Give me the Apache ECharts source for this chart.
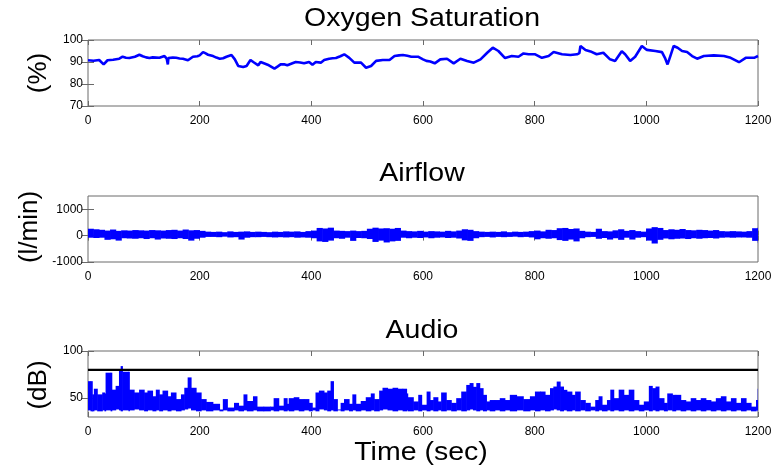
<!DOCTYPE html>
<html>
<head>
<meta charset="utf-8">
<script src="https://cdn.jsdelivr.net/npm/echarts@6/dist/echarts.min.js"></script>
<style>html,body{margin:0;padding:0;background:#fff;}#c{width:776px;height:470px;}</style>
</head>
<body>
<div id="c"></div>
<script>
// ---------- data ----------
const xTicks = [0, 200, 400, 600, 800, 1000, 1200];

const oxyTime = [0,10,20,28,35,45,56,62,68,74,84,92,98,104,110,116,122,128,137,141,143,144,146,152,158,164,170,179,188,196,200,206,210,215,224,230,236,242,248,257,263,269,278,284,287,291,296,305,309,315,324,334,340,345,351,357,365,372,380,387,396,402,408,417,423,432,438,444,452,459,468,477,483,489,498,507,516,528,540,549,557,564,572,579,591,600,606,613,621,631,643,655,667,679,691,703,715,725,735,747,759,771,780,789,801,813,825,834,849,864,876,880,882,891,900,911,923,935,944,956,962,971,980,992,1001,1016,1028,1034,1038,1043,1049,1056,1064,1073,1082,1091,1103,1121,1139,1151,1166,1178,1193,1200];
const oxygen = [90.8,90.6,90.9,88.9,90.8,91.0,91.5,92.4,91.9,91.8,92.4,93.3,92.6,92.1,91.8,92.1,92.0,91.9,92.7,91.5,88.9,91.8,91.2,92.0,91.9,91.6,91.5,90.8,92.4,92.6,93.0,94.5,94.0,93.3,92.7,92.0,91.5,91.7,92.4,93.2,91.2,88.2,87.7,88.2,88.9,90.9,90.0,88.5,90.0,89.4,88.5,87.0,88.0,88.9,89.0,88.5,89.3,90.0,89.8,89.4,90.0,88.7,90.0,89.7,90.9,91.5,91.7,91.8,92.6,93.5,91.9,89.7,89.8,89.7,87.4,88.2,90.5,90.9,90.9,92.7,93.0,93.2,92.8,92.4,92.4,91.2,90.5,90.2,89.4,91.2,91.5,89.4,91.5,90.5,89.7,91.2,94.2,96.5,95.0,91.8,92.7,92.4,93.9,93.5,93.5,91.9,92.7,94.5,93.5,93.2,93.5,94.0,97.3,95.5,94.8,93.5,94.2,91.2,90.5,94.9,93.5,90.5,92.4,97.3,95.5,95.0,94.5,91.5,88.9,92.7,97.3,96.5,95.0,94.5,92.7,91.5,92.7,93.0,92.7,91.9,89.9,91.9,91.9,92.7];

const airTime = [0,10,20,30,40,50,60,70,80,90,100,110,120,130,140,150,160,170,180,190,200,210,220,230,240,250,260,270,280,290,300,310,320,330,340,350,360,370,380,390,400,410,420,430,440,450,460,470,480,490,500,510,520,530,540,550,560,570,580,590,600,610,620,630,640,650,660,670,680,690,700,710,720,730,740,750,760,770,780,790,800,810,820,830,840,850,860,870,880,890,900,910,920,930,940,950,960,970,980,990,1000,1010,1020,1030,1040,1050,1060,1070,1080,1090,1100,1110,1120,1130,1140,1150,1160,1170,1180,1190,1200];
const airHigh = [260,240,220,190,230,180,200,190,210,200,190,210,200,190,210,220,190,230,200,210,180,150,140,150,130,160,140,150,160,140,150,140,130,150,140,160,150,160,140,170,190,290,270,300,190,180,170,190,170,180,260,300,270,280,260,290,190,170,160,180,150,170,160,150,180,160,190,240,220,170,150,140,150,140,160,130,150,140,150,170,190,160,220,210,280,290,250,270,180,150,140,260,170,160,200,240,180,210,170,150,270,320,290,210,240,220,250,210,200,220,210,190,210,170,160,170,160,150,170,280,310];
const airLow = [-80,-90,-80,-160,-140,-190,-100,-110,-120,-100,-130,-100,-150,-110,-120,-130,-100,-130,-190,-120,-80,-50,-50,-60,-40,-70,-60,-150,-80,-60,-60,-50,-60,-70,-60,-70,-60,-80,-70,-80,-100,-220,-240,-190,-100,-120,-80,-200,-90,-100,-130,-240,-190,-260,-220,-200,-80,-100,-80,-90,-70,-100,-80,-70,-90,-80,-110,-180,-200,-100,-60,-50,-70,-50,-60,-50,-40,-60,-50,-70,-140,-100,-120,-100,-170,-200,-150,-220,-100,-60,-50,-120,-90,-150,-100,-160,-80,-150,-80,-60,-190,-300,-160,-110,-140,-120,-110,-130,-100,-120,-100,-90,-110,-80,-70,-80,-70,-70,-80,-200,-270];

const audioTime = [0,5,8,11,17,26,30,32,41,43,50,56,59,62,73,74,83,92,101,107,116,122,128,134,143,149,158,167,173,179,185,194,203,212,224,236,242,250,262,270,279,285,296,303,315,327,333,342,351,357,360,369,378,387,396,402,408,414,423,429,435,440,447,453,459,468,474,480,489,498,507,513,522,528,537,546,555,564,571,573,583,592,598,607,613,619,627,633,642,651,660,669,678,684,690,696,702,708,714,720,729,738,747,756,768,780,792,801,810,819,828,834,840,846,852,858,867,873,882,891,900,909,915,921,930,936,942,951,960,969,978,987,996,1005,1011,1017,1023,1032,1038,1047,1053,1062,1071,1080,1089,1098,1107,1116,1125,1134,1143,1152,1161,1170,1179,1188,1197,1200];
const audioHigh = [68,68,54,60,54,56,55,77,77,59,63,80,84,78,78,59,56,59,56,58,52,59,54,58,52,56,49,54,61,72,61,56,49,46,44,38,49,40,45,42,54,47,52,41,41,41,50,42,50,44,50,51,49,49,45,40,56,58,56,58,68,49,38,45,49,44,54,44,47,51,55,49,58,61,60,61,60,60,55,51,46.5,53.5,43,57,48,51,46.5,56,48,45,50,57,64,66,62,66,60.6,53.5,46.5,48,48,50,48,53.5,52,49,52,57,57,53.5,60.6,62.3,67.6,62.3,58.8,57,53.5,57,48,45,41,48,52,43,48,59,50,59,53.5,59,48,43,46.5,63,60.6,62.3,50,45,55,53.5,53.5,48,46.5,50,48,50,48,46.5,50,52,46.5,50,45,50,45,41,48,60];
const audioLow = [37,36,36,37,36,37,36,37,36,37,38,37,36,37,36,37,38,37,36,37,36,37,36,37,36,37,36,37,38,39,37,36,37,36,37,36,37,36,37,36,37,36,37,36,36,37,36,37,36,37,36,37,36,37,36,37,36,38,37,36,37,36,37,36,37,36,37,36,37,36,37,36,37,38,37,36,37,36,37,36,37,36,37,36,37,36,37,36,37,36,37,36,37,38,37,36,37,36,37,36,37,36,37,36,37,36,37,36,37,36,37,38,37,36,37,36,37,36,37,36,37,36,37,36,37,36,37,36,37,36,37,36,37,36,37,36,37,36,37,36,37,36,37,36,37,36,37,36,37,36,37,36,37,36,37,36,37,36,37];
const audioThreshold = 80;

const titles = ['Oxygen Saturation', 'Airflow', 'Audio'];
const yNames = ['(%)', '(l/min)', '(dB)'];
const xName = 'Time (sec)';
const yTicks = [[70, 80, 90, 100], [-1000, 0, 1000], [50, 100]];
const yRanges = [[70, 100], [-1000, 1500], [30, 100]];

// ---------- chart ----------
const BLUE = '#0000ff';
const FRAME = '#6a6a6a';
const FONT = '"Liberation Sans", Arial, Helvetica, sans-serif';
const gridTops = [40, 196, 351];
const plain = v => String(v);

const grids = gridTops.map(t => ({left: 88, top: t, width: 670, height: 66, show: true, borderColor: FRAME, borderWidth: 1, backgroundColor: 'transparent'}));

const xAxes = [];
const yAxes = [];
for (let g = 0; g < 3; g++) {
  xAxes.push({
    type: 'value', gridIndex: g, min: 0, max: 1200, interval: 200, position: 'bottom',
    axisLine: {show: false}, splitLine: {show: false},
    axisTick: {show: true, inside: true, length: 5, lineStyle: {color: FRAME}, customValues: xTicks},
    axisLabel: {show: true, color: '#000', fontSize: 12, fontFamily: FONT, margin: 9, customValues: xTicks, formatter: plain}
  });
  xAxes.push({
    type: 'value', gridIndex: g, min: 0, max: 1200, interval: 200, position: 'top',
    axisLine: {show: false}, splitLine: {show: false},
    axisTick: {show: true, inside: true, length: 5, lineStyle: {color: FRAME}, customValues: xTicks},
    axisLabel: {show: false}
  });
  yAxes.push({
    type: 'value', gridIndex: g, min: yRanges[g][0], max: yRanges[g][1], position: 'left',
    axisLine: {show: false}, splitLine: {show: false},
    axisTick: {show: true, inside: true, length: 6, lineStyle: {color: FRAME}, customValues: yTicks[g]},
    axisLabel: {show: true, color: '#000', fontSize: 12, fontFamily: FONT, margin: 5, customValues: yTicks[g], formatter: plain}
  });
  yAxes.push({
    type: 'value', gridIndex: g, min: yRanges[g][0], max: yRanges[g][1], position: 'right',
    axisLine: {show: false}, splitLine: {show: false},
    axisTick: {show: true, inside: true, length: 6, lineStyle: {color: FRAME}, customValues: yTicks[g]},
    axisLabel: {show: false}
  });
}

// band of blocks from low to high, each block reaching the next sample time
function bandData(times, lows, highs) {
  return times.map((t, i) => [t, lows[i], highs[i], i + 1 < times.length ? times[i + 1] : t]);
}
function renderBand(params, api) {
  const p1 = api.coord([api.value(0), api.value(2)]);
  const p2 = api.coord([api.value(3), api.value(1)]);
  const w = Math.max(p2[0] - p1[0], 0.8) + 0.6;
  return {
    type: 'rect',
    shape: {x: p1[0] - 0.3, y: p1[1], width: w, height: p2[1] - p1[1]},
    style: {fill: BLUE}
  };
}

const series = [
  {
    type: 'line', xAxisIndex: 0, yAxisIndex: 0, showSymbol: false, symbol: 'none',
    data: oxyTime.map((t, i) => [t, oxygen[i]]),
    lineStyle: {color: BLUE, width: 2.6}, itemStyle: {color: BLUE}
  },
  {
    type: 'custom', xAxisIndex: 2, yAxisIndex: 2, clip: true,
    data: bandData(airTime, airLow, airHigh),
    encode: {x: [0, 3], y: [1, 2]},
    renderItem: renderBand
  },
  {
    type: 'custom', xAxisIndex: 4, yAxisIndex: 4, clip: true,
    data: bandData(audioTime, audioLow, audioHigh),
    encode: {x: [0, 3], y: [1, 2]},
    renderItem: renderBand
  },
  {
    type: 'line', xAxisIndex: 4, yAxisIndex: 4, symbol: 'none', showSymbol: false,
    data: [[0, audioThreshold], [1200, audioThreshold]],
    lineStyle: {color: '#000', width: 2.2}
  }
];

const titleY = [19, 174, 331];
const nameX = [39, 30, 39];
const nameY = [73, 227, 385];
const graphic = [];
for (let g = 0; g < 3; g++) {
  graphic.push({type: 'text', x: 422, y: titleY[g], scaleX: 1.14, silent: true,
    style: {text: titles[g], fontSize: 25, fontFamily: FONT, fill: '#000', align: 'center', verticalAlign: 'middle'}});
  graphic.push({type: 'text', x: nameX[g], y: nameY[g], rotation: Math.PI / 2, silent: true,
    style: {text: yNames[g], fontSize: 26, fontFamily: FONT, fill: '#000', align: 'center', verticalAlign: 'middle'}});
}
graphic.push({type: 'text', x: 421, y: 453, scaleX: 1.14, silent: true,
  style: {text: xName, fontSize: 25, fontFamily: FONT, fill: '#000', align: 'center', verticalAlign: 'middle'}});

const chart = echarts.init(document.getElementById('c'), null, {renderer: 'canvas'});
chart.setOption({
  animation: false,
  backgroundColor: '#fff',
  grid: grids,
  xAxis: xAxes,
  yAxis: yAxes,
  series: series,
  graphic: graphic
});
</script>
</body>
</html>
